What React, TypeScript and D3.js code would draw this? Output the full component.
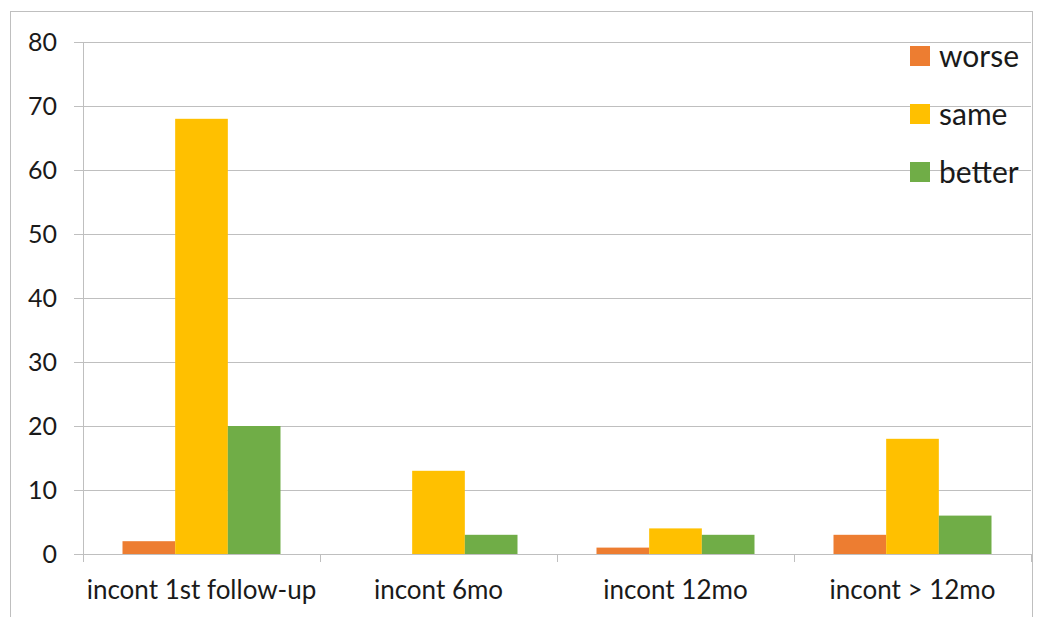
import React, { useEffect, useRef } from 'react';
import * as d3 from 'd3';

const categories = ['incont 1st follow-up', 'incont 6mo', 'incont 12mo', 'incont > 12mo'];
const seriesNames = ['worse', 'same', 'better'];
const worse = [2, 0, 1, 3];
const same = [68, 13, 4, 18];
const better = [20, 3, 3, 6];
const colors = ['#ED7D31', '#FFC000', '#70AD47'];
const yTicks = [0, 10, 20, 30, 40, 50, 60, 70, 80];

const FONT = 'Lato, "Open Sans", sans-serif';
const TEXT = '#1a1a1a';

const App: React.FC = () => {
  const ref = useRef<SVGSVGElement>(null);

  useEffect(() => {
    if (!ref.current) return;
    const svg = d3.select(ref.current);
    svg.selectAll('*').remove();

    const W = 1042, H = 617;
    const margin = { top: 42, right: 11, bottom: 63, left: 83 };
    const width = W - margin.left - margin.right;
    const height = H - margin.top - margin.bottom;

    // outer chart frame (bottom edge runs off the picture)
    svg.append('rect')
      .attr('x', 10.5).attr('y', 11.5)
      .attr('width', 1022).attr('height', 620)
      .attr('fill', '#fff')
      .attr('stroke', '#bfbfbf')
      .attr('stroke-width', 1);

    const g = svg.append('g').attr('transform', `translate(${margin.left},${margin.top})`);

    const x0 = d3.scaleBand<string>().domain(categories).range([0, width]).paddingInner(0).paddingOuter(0);
    const x1 = d3.scaleBand<string>().domain(seriesNames).range([0, x0.bandwidth()]).paddingInner(0).paddingOuter(0.75);
    const y = d3.scaleLinear().domain([0, 80]).range([height, 0]);

    // gridlines
    g.selectAll('line.grid')
      .data(yTicks)
      .enter().append('line')
      .attr('x1', -9).attr('x2', width)
      .attr('y1', d => Math.round(y(d)) + 0.5).attr('y2', d => Math.round(y(d)) + 0.5)
      .attr('stroke', '#bfbfbf').attr('stroke-width', 1);

    // y axis line
    g.append('line')
      .attr('x1', 0.5).attr('x2', 0.5).attr('y1', 0).attr('y2', height)
      .attr('stroke', '#bfbfbf');

    // y tick labels
    g.selectAll('text.ytick')
      .data(yTicks)
      .enter().append('text')
      .attr('x', -26).attr('y', d => y(d))
      .attr('dy', '0.35em')
      .attr('text-anchor', 'end')
      .style('font-family', FONT).style('font-size', '25px').attr('fill', TEXT)
      .text(d => d);

    // category tick marks
    const edges = categories.map(c => x0(c) as number).concat([width]);
    g.selectAll('line.xtick')
      .data(edges)
      .enter().append('line')
      .attr('x1', d => Math.round(d) + 0.5).attr('x2', d => Math.round(d) + 0.5)
      .attr('y1', height).attr('y2', height + 8)
      .attr('stroke', '#bfbfbf');

    // category labels
    g.selectAll('text.xlab')
      .data(categories)
      .enter().append('text')
      .attr('x', d => (x0(d) as number) + x0.bandwidth() / 2)
      .attr('y', height + 36)
      .attr('dy', '0.35em')
      .attr('text-anchor', 'middle')
      .style('font-family', FONT).style('font-size', '26px').attr('fill', TEXT)
      .text(d => d);

    const series = [worse, same, better];

    series.forEach((vals, si) => {
      g.selectAll(`rect.s${si}`)
        .data(vals)
        .enter().append('rect')
        .attr('x', (_, i) => (x0(categories[i]) as number) + (x1(seriesNames[si]) as number))
        .attr('width', x1.bandwidth())
        .attr('y', d => y(d))
        .attr('height', d => height - y(d))
        .attr('fill', colors[si]);
    });

    // legend
    const legend = svg.append('g').attr('transform', 'translate(910,56)');
    seriesNames.forEach((name, i) => {
      const row = legend.append('g').attr('transform', `translate(0,${i * 58})`);
      row.append('rect')
        .attr('x', 0).attr('y', -10)
        .attr('width', 20).attr('height', 20)
        .attr('fill', colors[i]);
      row.append('text')
        .attr('x', 29).attr('y', 0).attr('dy', '0.35em')
        .style('font-family', FONT).style('font-size', '30px').attr('fill', TEXT)
        .text(name);
    });
  }, []);

  return (
    <div style={{ position: 'absolute', left: 0, top: 0 }}>
      <svg ref={ref} width={1042} height={617} style={{ display: 'block' }}></svg>
    </div>
  );
};

export default App;
